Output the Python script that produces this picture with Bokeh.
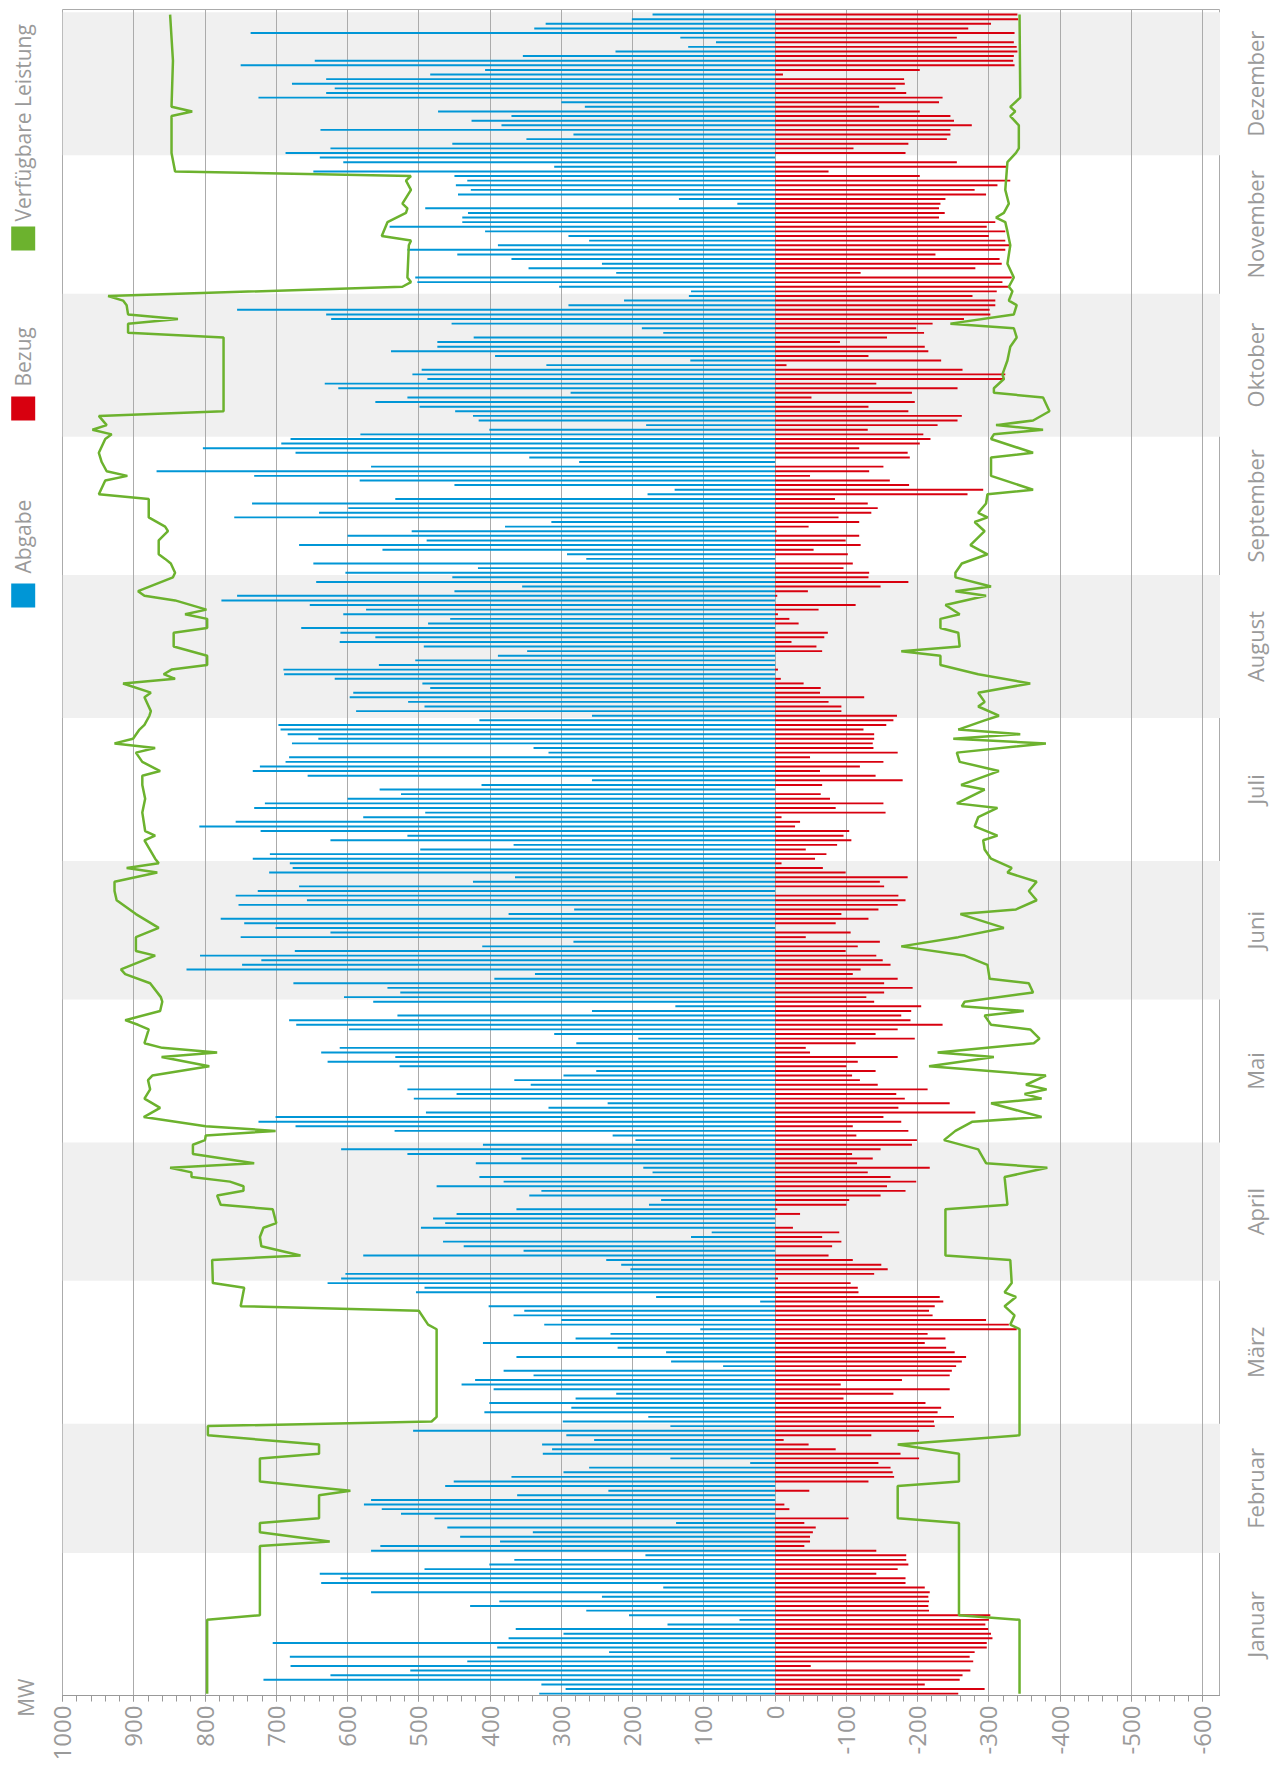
import math
from bokeh.plotting import figure
from bokeh.layouts import row
from bokeh.models import FixedTicker, BoxAnnotation, Range1d, ColumnDataSource
from bokeh.embed import file_html
from bokeh.resources import INLINE
from bokeh.core.properties import value

# ---------------- data ----------------
months = ["Januar", "Februar", "März", "April", "Mai", "Juni", "Juli",
          "August", "September", "Oktober", "November", "Dezember"]
month_days = [31, 28, 31, 30, 31, 30, 31, 31, 30, 31, 30, 31]

# Abgabe (MW), daily
abgabe_jan = [331, 294, 328, 718, 624, 512, 680, 432, 681, 233, 390, 705, 374, 297, 364, 151,
              50, 205, 265, 428, 387, 243, 567, 157, 637, 610, 639, 492, 401, 366, 182]
abgabe_feb = [567, 554, 386, 442, 340, 460, 139, 478, 525, 552, 577, 567, 362, 234, 463, 451,
              370, 297, 261, 35, 147, 326, 313, 327, 254, 293, 508, 147]
abgabe_mar = [298, 178, 408, 286, 401, 280, 223, 395, 440, 421, 339, 381, 73, 146, 363, 153,
              221, 410, 280, 231, 105, 324, 300, 367, 352, 402, 21, 167, 504, 492, 628]
abgabe_apr = [609, 603, 203, 216, 237, 578, 353, 437, 466, 118, 89, 497, 463, 480, 447, 363,
              177, 160, 345, 328, 475, 381, 415, 172, 185, 420, 356, 516, 609, 410]
abgabe_may = [196, 228, 534, 673, 725, 701, 490, 318, 235, 507, 447, 516, 343, 366, 297, 251,
              527, 628, 533, 637, 611, 279, 192, 310, 598, 672, 682, 530, 257, 140, 564]
abgabe_jun = [605, 526, 544, 676, 394, 337, 826, 748, 721, 807, 674, 411, 283, 750, 624, 701,
              745, 778, 374, 282, 753, 657, 757, 726, 668, 424, 365, 710, 677, 681]
abgabe_jul = [733, 709, 498, 367, 624, 516, 722, 808, 757, 578, 491, 731, 716, 600, 525, 555,
              412, 257, 656, 733, 723, 687, 682, 318, 339, 678, 641, 684, 694, 697, 415]
abgabe_aug = [257, 588, 492, 515, 597, 592, 484, 495, 618, 689, 690, 556, 505, 389, 348, 493,
              611, 561, 610, 665, 487, 456, 606, 574, 653, 777, 755, 450, 355, 644, 453]
abgabe_sep = [603, 417, 648, 265, 292, 551, 668, 489, 600, 510, 379, 314, 759, 640, 599, 734,
              533, 179, 141, 450, 583, 731, 868, 567, 275, 345, 673, 803, 693, 680]
abgabe_oct = [582, 401, 181, 416, 424, 449, 499, 561, 516, 287, 613, 632, 488, 509, 496, 321,
              119, 393, 539, 474, 474, 423, 157, 187, 454, 623, 630, 755, 290, 212, 121]
abgabe_nov = [118, 303, 502, 505, 223, 346, 243, 370, 446, 516, 389, 261, 290, 407, 541, 439,
              439, 431, 491, 53, 135, 445, 427, 448, 432, 450, 648, 310, 606, 639]
abgabe_dec = [687, 624, 453, 349, 283, 638, 384, 426, 370, 473, 267, 300, 725, 630, 618, 678,
              630, 484, 407, 750, 646, 354, 224, 122, 83, 133, 736, 338, 322, 201, 172]

# Bezug (MW, drawn to the negative side), daily
bezug_jan = [257, 294, 210, 259, 263, 274, 50, 278, 273, 280, 297, 297, 305, 303, 299, 295,
             300, 302, 216, 215, 216, 215, 217, 210, 183, 183, 142, 172, 187, 184, 184]
bezug_feb = [142, 41, 49, 49, 53, 57, 41, 103, 0, 20, 13, 0, 0, 48, 0, 131,
             167, 165, 162, 145, 202, 176, 85, 47, 12, 135, 202, 224]
bezug_mar = [223, 251, 228, 233, 211, 96, 166, 245, 92, 178, 245, 248, 254, 262, 268, 252,
             240, 210, 239, 214, 339, 328, 296, 221, 216, 224, 236, 231, 117, 116, 106]
bezug_apr = [4, 139, 158, 149, 109, 75, 0, 80, 93, 66, 90, 25, 0, 0, 35, 3,
             100, 104, 148, 183, 157, 198, 162, 130, 217, 115, 137, 108, 148, 192]
bezug_may = [199, 114, 187, 109, 177, 152, 281, 173, 245, 182, 170, 214, 144, 119, 108, 141,
             100, 116, 172, 49, 43, 113, 196, 141, 172, 235, 190, 177, 191, 205, 139]
bezug_jun = [128, 153, 193, 153, 172, 109, 120, 162, 151, 142, 99, 116, 147, 43, 106, 0,
             85, 131, 93, 145, 172, 183, 173, 0, 153, 147, 186, 99, 67, 9]
bezug_jul = [56, 72, 43, 87, 107, 96, 104, 28, 35, 9, 155, 85, 152, 77, 64, 0,
             66, 179, 141, 63, 119, 152, 49, 172, 138, 137, 139, 139, 124, 156, 166]
bezug_aug = [171, 93, 93, 75, 125, 63, 64, 40, 8, 0, 4, 0, 0, 0, 66, 58,
             23, 69, 74, 0, 33, 20, 4, 61, 113, 0, 3, 46, 148, 187, 131]
bezug_sep = [132, 96, 109, 0, 102, 54, 120, 99, 118, 2, 47, 118, 89, 135, 144, 130,
             84, 270, 292, 188, 161, 49, 132, 152, 0, 189, 186, 118, 203, 218]
bezug_oct = [208, 130, 228, 256, 262, 187, 131, 196, 51, 192, 256, 142, 322, 323, 263, 16,
             233, 131, 215, 210, 91, 157, 209, 198, 221, 265, 302, 301, 309, 309, 277]
bezug_nov = [311, 328, 319, 332, 120, 281, 318, 315, 225, 323, 330, 323, 300, 323, 297, 309,
             230, 238, 230, 232, 239, 296, 280, 312, 330, 203, 75, 324, 255, 0]
bezug_dec = [183, 110, 187, 241, 246, 246, 276, 251, 246, 203, 146, 230, 235, 184, 169, 182,
             181, 11, 203, 336, 334, 335, 340, 339, 335, 255, 336, 271, 303, 341, 340]

# Verfügbare Leistung (vertices of the line: day of year, MW)
vl_abgabe_day = [1, 17, 18, 33, 34, 36, 38, 39, 44, 45, 47, 52, 53, 55, 57, 59, 60, 61, 80, 81,
                 84, 85, 89, 90, 95, 96, 98, 100, 102, 103, 106, 107, 109, 110, 111, 112, 113,
                 114, 115, 116, 118, 120, 121, 122, 123, 124, 126, 128, 130, 132, 134, 135, 137,
                 139, 140, 141, 142, 145, 146, 147, 149, 151, 152, 155, 157, 158, 161, 162, 165,
                 167, 170, 173, 175, 177, 179, 180, 181, 182, 186, 187, 188, 192, 195, 198, 200,
                 201, 203, 205, 206, 207, 208, 210, 211, 213, 214, 217, 218, 220, 221, 222, 223,
                 224, 226, 228, 231, 232, 234, 235, 236, 238, 239, 240, 243, 244, 246, 247, 248,
                 251, 253, 254, 256, 260, 261, 264, 265, 266, 268, 270, 273, 274, 275, 276, 278,
                 279, 295, 296, 298, 299, 300, 302, 303, 304, 306, 307, 308, 315, 316, 317, 320,
                 322, 323, 324, 327, 329, 330, 331, 335, 343, 344, 345, 355, 365]
vl_abgabe_mw = [797, 797, 723, 723, 625, 723, 723, 640, 640, 596, 723, 723, 640, 640, 796, 796,
                482, 475, 475, 487, 500, 750, 745, 789, 790, 666, 721, 723, 718, 700, 705, 778,
                783, 746, 746, 765, 819, 819, 849, 731, 817, 817, 800, 799, 701, 799, 886, 863,
                885, 877, 880, 874, 794, 861, 783, 860, 885, 879, 894, 912, 863, 860, 862, 877,
                912, 918, 870, 897, 897, 865, 897, 924, 927, 927, 867, 910, 865, 870, 885, 870,
                884, 888, 884, 888, 888, 863, 888, 897, 870, 927, 901, 892, 885, 878, 876, 885,
                876, 915, 842, 858, 847, 797, 797, 844, 844, 797, 797, 828, 798, 842, 885, 894,
                845, 842, 848, 856, 865, 865, 852, 856, 879, 879, 949, 940, 909, 938, 945, 949,
                940, 931, 958, 938, 949, 774, 774, 908, 908, 838, 908, 910, 915, 936, 523, 511,
                516, 514, 511, 552, 544, 518, 516, 523, 511, 518, 511, 842, 847, 847, 818, 847,
                845, 849]
vl_bezug_day = [1, 17, 18, 38, 39, 46, 47, 53, 55, 57, 80, 81, 83, 85, 87, 88, 90, 95, 96, 106,
                107, 113, 115, 116, 119, 121, 123, 125, 126, 129, 130, 131, 132, 133, 135, 137,
                139, 140, 142, 143, 145, 146, 148, 149, 150, 151, 153, 155, 156, 159, 161, 163,
                165, 167, 170, 171, 173, 175, 177, 179, 180, 182, 184, 186, 187, 189, 191, 193,
                194, 197, 198, 201, 203, 205, 207, 208, 209, 210, 212, 213, 215, 216, 218, 220,
                222, 224, 226, 227, 228, 231, 232, 234, 235, 237, 239, 240, 241, 243, 244, 246,
                248, 250, 253, 255, 256, 257, 259, 261, 262, 265, 269, 270, 273, 274, 275, 276,
                277, 279, 282, 283, 284, 286, 287, 290, 293, 295, 297, 298, 300, 302, 303, 305,
                306, 308, 311, 315, 318, 320, 321, 322, 324, 327, 333, 335, 336, 341, 343, 344,
                345, 347, 365]
vl_bezug_mw = [343, 343, 258, 258, 172, 172, 258, 258, 172, 343, 343, 330, 336, 322, 338, 322,
               332, 330, 239, 239, 326, 322, 382, 296, 285, 237, 253, 277, 374, 303, 374, 350,
               381, 352, 380, 216, 307, 228, 363, 371, 358, 303, 294, 349, 262, 266, 362, 356,
               301, 298, 266, 177, 257, 321, 260, 338, 367, 356, 367, 326, 332, 303, 294, 292,
               312, 280, 285, 312, 255, 294, 261, 314, 259, 255, 380, 250, 344, 257, 294, 314,
               285, 294, 285, 358, 285, 232, 232, 177, 259, 257, 232, 232, 259, 239, 296, 253,
               303, 253, 253, 262, 298, 274, 294, 280, 298, 285, 296, 298, 362, 303, 303, 362,
               303, 307, 376, 310, 362, 385, 376, 307, 307, 321, 319, 326, 330, 339, 335, 246,
               335, 339, 328, 333, 328, 335, 326, 330, 326, 323, 310, 321, 328, 323, 326, 338,
               342, 342, 330, 337, 330, 344, 343]

x_ticks = [1000, 900, 800, 700, 600, 500, 400, 300, 200, 100, 0,
           -100, -200, -300, -400, -500, -600]
x_tick_labels = ["1000", "900", "800", "700", "600", "500", "400", "300", "200", "100", "0",
                 "-100", "-200", "-300", "-400", "-500", "-600"]

legend_names = ["Abgabe", "Bezug", "Verfügbare Leistung"]
unit_label = "MW"

# ---------------- styling / layout ----------------
BLUE = "#0096d6"
RED = "#d8000f"
GREEN = "#6cb22e"
TEXT = "#9a9a9a"
GRID = "#ababab"
BAND = "#f0f0f0"
FONT = "Open Sans"
H = 1780
TOP, BOTTOM = 9, 85          # frame from page y 9 to 1695
LEFT_W, MAIN_W, RIGHT_W = 42, 1178, 57

abgabe = (abgabe_jan + abgabe_feb + abgabe_mar + abgabe_apr + abgabe_may + abgabe_jun +
          abgabe_jul + abgabe_aug + abgabe_sep + abgabe_oct + abgabe_nov + abgabe_dec)
bezug = (bezug_jan + bezug_feb + bezug_mar + bezug_apr + bezug_may + bezug_jun +
         bezug_jul + bezug_aug + bezug_sep + bezug_oct + bezug_nov + bezug_dec)
days = list(range(1, len(abgabe) + 1))

month_start = []
s = 1
for n in month_days:
    month_start.append(s)
    s += n
month_mid = [st + (n - 1) / 2 for st, n in zip(month_start, month_days)]

y_range = Range1d(0.6, 366.1)

# ---------------- main chart ----------------
p = figure(width=MAIN_W, height=H,
           x_range=Range1d(1000, -625), y_range=y_range,
           output_backend="svg", toolbar_location=None,
           x_axis_location="below", y_axis_location=None,
           min_border_left=20, min_border_right=0, min_border_top=TOP, min_border_bottom=BOTTOM)
p.outline_line_color = GRID
p.background_fill_color = "white"
p.border_fill_color = "white"

for i in range(1, 12, 2):
    p.add_layout(BoxAnnotation(bottom=month_start[i] - 0.5,
                               top=month_start[i] + month_days[i] - 0.5,
                               fill_color=BAND, fill_alpha=1.0, line_color=None,
                               level="image"))

p.xaxis.ticker = FixedTicker(ticks=x_ticks, minor_ticks=list(range(-600, 1001, 20)))
p.xaxis.major_label_overrides = {t: l for t, l in zip(x_ticks, x_tick_labels)}
p.xaxis.major_label_orientation = math.pi / 2
p.xaxis.axis_line_color = "#999999"
p.xaxis.major_tick_line_color = "#999999"
p.xaxis.minor_tick_line_color = "#999999"
p.xaxis.major_tick_in = 0
p.xaxis.major_tick_out = 6
p.xaxis.minor_tick_in = 0
p.xaxis.minor_tick_out = 6
p.xaxis.major_label_standoff = 4
p.xaxis.major_label_text_font = FONT
p.xaxis.major_label_text_font_size = "24px"
p.xaxis.major_label_text_color = TEXT
p.xgrid.grid_line_color = GRID
p.xgrid.grid_line_width = 1
p.ygrid.grid_line_color = None

src = ColumnDataSource(dict(day=days, abgabe=abgabe, bezug=[-v for v in bezug]))
p.hbar(y="day", left=0, right="abgabe", height=0.42, fill_color=BLUE, line_color=None, source=src)
p.hbar(y="day", left=0, right="bezug", height=0.42, fill_color=RED, line_color=None, source=src)

vl_a = ColumnDataSource(dict(day=vl_abgabe_day, mw=vl_abgabe_mw))
vl_b = ColumnDataSource(dict(day=vl_bezug_day, mw=[-v for v in vl_bezug_mw]))
p.line(x="mw", y="day", source=vl_a, line_color=GREEN, line_width=2.5)
p.line(x="mw", y="day", source=vl_b, line_color=GREEN, line_width=2.5)

# ---------------- month labels (right strip, shares the day scale) ----------------
pr = figure(width=RIGHT_W, height=H, x_range=Range1d(0, RIGHT_W), y_range=y_range,
            output_backend="svg", toolbar_location=None,
            x_axis_location=None, y_axis_location=None,
            min_border_left=0, min_border_right=0, min_border_top=TOP, min_border_bottom=BOTTOM)
pr.outline_line_color = None
pr.grid.visible = False
pr.text(x=[34] * len(months), y=month_mid, text=months, angle=math.pi / 2,
        text_align="center", text_baseline="middle",
        text_font=value(FONT), text_font_size="22px", text_color=TEXT)

# ---------------- legend + unit (left strip; y = minus page pixel row) ----------------
pl = figure(width=LEFT_W, height=H, x_range=Range1d(0, LEFT_W),
            y_range=Range1d(-(H - BOTTOM), -TOP),
            output_backend="svg", toolbar_location=None,
            x_axis_location="below", y_axis_location=None,
            min_border_left=0, min_border_right=0, min_border_top=TOP, min_border_bottom=BOTTOM)
pl.outline_line_color = None
pl.grid.visible = False
leg_x = 22.7
sq_y = [-595, -408, -238]
txt_y = [-573, -386, -221]
pl.rect(x=[leg_x] * 3, y=sq_y, width=24, height=24,
        fill_color=[BLUE, RED, GREEN], line_color=None)
pl.text(x=[leg_x] * 3, y=txt_y, text=legend_names, angle=math.pi / 2,
        text_align="left", text_baseline="middle",
        text_font=value(FONT), text_font_size="21px", text_color=TEXT)
# unit "MW" as the single label of the strip's bottom axis
pl.xaxis.ticker = FixedTicker(ticks=[25])
pl.xaxis.major_label_overrides = {25: unit_label}
pl.xaxis.major_label_orientation = math.pi / 2
pl.xaxis.axis_line_color = None
pl.xaxis.major_tick_line_color = None
pl.xaxis.minor_tick_line_color = None
pl.xaxis.major_tick_in = 0
pl.xaxis.major_tick_out = 0
pl.xaxis.major_label_standoff = -17
pl.xaxis.major_label_text_font = FONT
pl.xaxis.major_label_text_font_size = "21px"
pl.xaxis.major_label_text_color = TEXT

layout = row(pl, p, pr, spacing=0)
open("out.html", "w").write(file_html(layout, INLINE))
